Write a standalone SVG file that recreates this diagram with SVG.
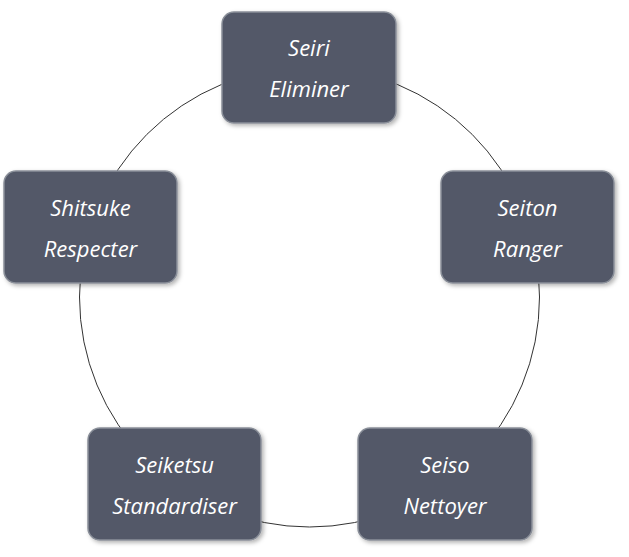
<svg xmlns="http://www.w3.org/2000/svg" width="629" height="557" viewBox="0 0 629 557">
<style>
.n{fill:#525868;stroke:#8a8f99;stroke-width:1.5}
.t{fill:#fff;font-family:"Open Sans","Liberation Sans",sans-serif;font-style:italic;font-size:22px;text-anchor:middle}
</style>
<defs><filter id="s" x="-10%" y="-10%" width="130%" height="130%"><feDropShadow dx="2" dy="2" stdDeviation="2" flood-opacity="0.3"/></filter></defs>
<rect width="629" height="557" fill="#fff"/>
<g id="connectors"><circle cx="309.5" cy="297" r="230" fill="none" stroke="#333" stroke-width="1"/></g>
<g id="seiri"><rect class="n" filter="url(#s)" x="222" y="12" width="174" height="111" rx="12"/><text class="t" x="309" y="56">Seiri</text><text class="t" x="309" y="97">Eliminer</text></g>
<g id="seiton"><rect class="n" filter="url(#s)" x="441" y="171" width="173" height="112" rx="12"/><text class="t" x="527.5" y="216">Seiton</text><text class="t" x="527.5" y="257">Ranger</text></g>
<g id="seiso"><rect class="n" filter="url(#s)" x="358" y="428" width="174" height="112" rx="12"/><text class="t" x="445" y="473">Seiso</text><text class="t" x="445" y="514">Nettoyer</text></g>
<g id="seiketsu"><rect class="n" filter="url(#s)" x="88" y="428" width="173" height="112" rx="12"/><text class="t" x="174.5" y="473">Seiketsu</text><text class="t" x="174.5" y="514">Standardiser</text></g>
<g id="shitsuke"><rect class="n" filter="url(#s)" x="4" y="171" width="173" height="112" rx="12"/><text class="t" x="90.5" y="216">Shitsuke</text><text class="t" x="90.5" y="257">Respecter</text></g>
</svg>
